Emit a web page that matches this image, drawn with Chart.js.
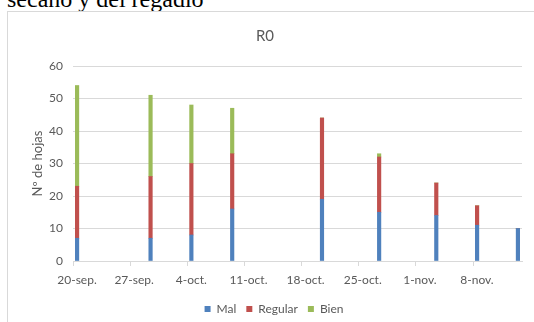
<!DOCTYPE html>
<html>
<head>
<meta charset="utf-8">
<script src="https://cdn.jsdelivr.net/npm/chart.js@4"></script>
<style>
  html, body { margin: 0; padding: 0; background: #fff; overflow: hidden; }
  body { width: 534px; height: 322px; position: relative; }
  .encabezado {
    position: absolute; left: 7px; top: -13px; margin: 0;
    font: 24px/24px "Liberation Serif", "Times New Roman", serif; color: #000; white-space: nowrap;
  }
  .marco {
    position: absolute; left: 7px; top: 11px; width: 540px; height: 320px;
    border-left: 1px solid #d9d9d9; border-top: 1px solid #d9d9d9;
  }
  .marco canvas { position: absolute; left: 0; top: 0; }
</style>
</head>
<body>
<p class="encabezado">secano y del regadío</p>
<div class="marco"><canvas id="grafico" width="526" height="310"></canvas></div>
<script>
// fechas de muestreo y recuento de hojas por estado
const fechaInicio = '2016-09-20';
const fechasMuestreo = ['2016-09-20', '2016-09-29', '2016-10-04', '2016-10-09', '2016-10-20',
  '2016-10-27', '2016-11-03', '2016-11-08', '2016-11-13'];
const mal = [7, 7, 8, 16, 19, 15, 14, 11, 10];
const regular = [16, 19, 22, 17, 25, 17, 10, 6, 0];
const bien = [31, 25, 18, 14, 0, 1, 0, 0, 0];
const etiquetasX = ['20-sep.', '27-sep.', '4-oct.', '11-oct.', '18-oct.', '25-oct.', '1-nov.', '8-nov.'];
const series = ['Mal', 'Regular', 'Bien'];

const COLORES = { mal: '#4f81bd', regular: '#c0504d', bien: '#9bbb59' };
const GRIS = '#595959';
const LINEA = '#d9d9d9';
const FUENTE = 'Lato, "Liberation Sans", sans-serif';
const DIA = 24 * 3600 * 1000;

function diasDesdeInicio(f) {
  return (Date.parse(f) - Date.parse(fechaInicio)) / DIA;
}

// Excel pone cada barra en el centro de su día
function puntos(valores) {
  return fechasMuestreo.map((f, i) => ({ x: diasDesdeInicio(f) + 0.5, y: valores[i] }));
}

const ultimoDia = diasDesdeInicio(fechasMuestreo[fechasMuestreo.length - 1]) + 1;

function serie(label, valores, color) {
  return {
    label,
    data: puntos(valores),
    backgroundColor: color,
    borderWidth: 0,
    barThickness: 3.5,
  };
}

// en el original la leyenda queda algo a la derecha del centro
const desplazaLeyenda = {
  id: 'desplazaLeyenda',
  afterLayout(chart) {
    chart.legend.left += 9;
    chart.legend.right += 9;
  },
};

new Chart(document.getElementById('grafico'), {
  type: 'bar',
  data: {
    datasets: [
      serie(series[0], mal, COLORES.mal),
      serie(series[1], regular, COLORES.regular),
      serie(series[2], bien, COLORES.bien),
    ],
  },
  plugins: [desplazaLeyenda],
  options: {
    responsive: false,
    animation: false,
    // el margen inferior negativo baja la leyenda sin apretar sus elementos
    layout: { padding: { left: 0, right: 12, top: 0, bottom: -3 } },
    plugins: {
      title: {
        display: true,
        text: 'R0',
        color: GRIS,
        font: { family: FUENTE, size: 15, weight: 'normal' },
        padding: { top: 15, bottom: 21 },
      },
      legend: {
        position: 'bottom',
        labels: {
          color: GRIS,
          font: { family: FUENTE, size: 12 },
          boxWidth: 6,
          boxHeight: 6,
          padding: 10,
        },
      },
      tooltip: { enabled: false },
    },
    scales: {
      x: {
        type: 'linear',
        stacked: true,
        offset: false,
        min: 0,
        max: ultimoDia,
        grid: { offset: false, drawOnChartArea: false, drawTicks: true, tickLength: 5, color: LINEA },
        border: { color: LINEA },
        ticks: {
          stepSize: 7,
          includeBounds: false,
          autoSkip: false,
          maxRotation: 0,
          color: GRIS,
          font: { family: FUENTE, size: 12 },
          padding: 7,
          labelOffset: 4,
          callback: (v) => etiquetasX[Math.round(v / 7)] || '',
        },
        afterFit: (scale) => { scale.height = 32; },
      },
      y: {
        stacked: true,
        min: 0,
        max: 60,
        grid: { color: LINEA, drawTicks: false },
        border: { display: false },
        ticks: {
          stepSize: 10,
          color: GRIS,
          font: { family: FUENTE, size: 12 },
          padding: 10,
        },
        title: {
          display: true,
          text: 'Nº de hojas',
          color: GRIS,
          font: { family: FUENTE, size: 13 },
          padding: { top: 22, bottom: 0 },
        },
        afterFit: (scale) => { scale.width = 65; },
      },
    },
  },
});
</script>
</body>
</html>
